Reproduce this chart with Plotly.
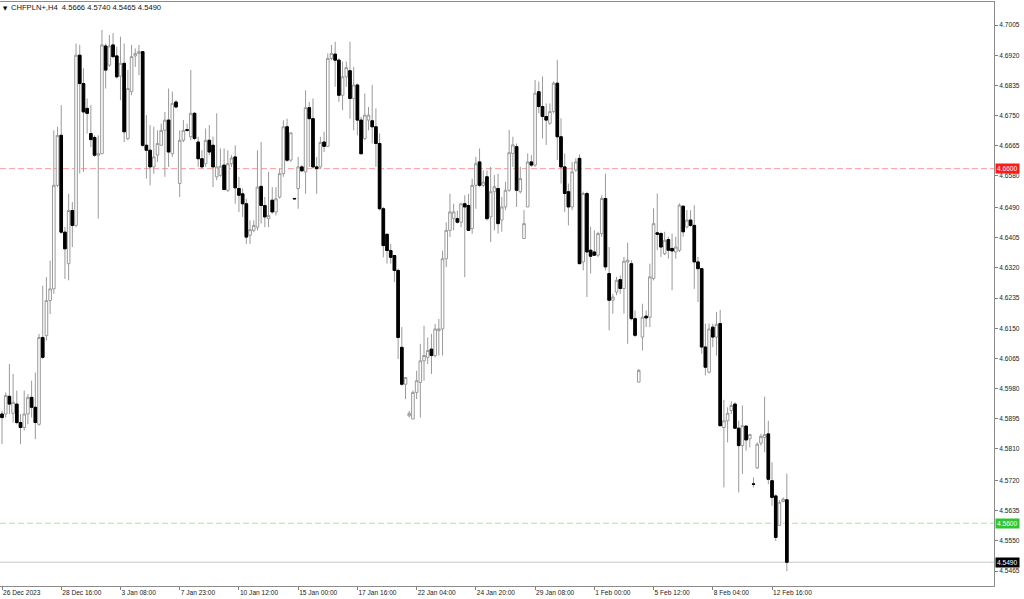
import plotly.graph_objects as go

# ---- data (CHFPLN+, H4) ----
opens = [4.5908, 4.5908, 4.5958, 4.5910, 4.5936, 4.5884, 4.5870, 4.5908, 4.5955, 4.5927,
         4.5879, 4.6124, 4.6129, 4.6228, 4.6261, 4.6553, 4.6694, 4.6421, 4.6332, 4.6482,
         4.6440, 4.6920, 4.6840, 4.6770, 4.6699, 4.6688, 4.6638, 4.6642, 4.6946, 4.6892,
         4.6949, 4.6918, 4.6861, 4.6897, 4.6685, 4.6817, 4.6918, 4.6925, 4.6930, 4.6666,
         4.6652, 4.6605, 4.6638, 4.6666, 4.6708, 4.6737, 4.6642, 4.6788, 4.6558, 4.6680,
         4.6710, 4.6690, 4.6756, 4.6675, 4.6628, 4.6614, 4.6680, 4.6666, 4.6577, 4.6581,
         4.6610, 4.6539, 4.6614, 4.6633, 4.6544, 4.6529, 4.6501, 4.6412, 4.6426, 4.6435,
         4.6550, 4.6496, 4.6459, 4.6511, 4.6478, 4.6520, 4.6586, 4.6718, 4.6624, 4.6516,
         4.6544, 4.6605, 4.6591, 4.6772, 4.6741, 4.6605, 4.6605, 4.6675, 4.6663, 4.6911,
         4.6923, 4.6906, 4.6807, 4.6859, 4.6876, 4.6798, 4.6836, 4.6737, 4.6685, 4.6737,
         4.6735, 4.6718, 4.6671, 4.6487, 4.6415, 4.6369, 4.6355, 4.6313, 4.6096, 4.5992,
         4.5903, 4.5894, 4.5969, 4.5997, 4.6058, 4.6068, 4.6091, 4.6073, 4.6143, 4.6148,
         4.6346, 4.6426, 4.6459, 4.6459, 4.6449, 4.6501, 4.6496, 4.6431, 4.6553, 4.6619,
         4.6553, 4.6577, 4.6464, 4.6535, 4.6544, 4.6455, 4.6492, 4.6539, 4.6643, 4.6662,
         4.6535, 4.6403, 4.6492, 4.6619, 4.6610, 4.6817, 4.6775, 4.6747, 4.6728, 4.6761,
         4.6841, 4.6690, 4.6605, 4.6535, 4.6492, 4.6596, 4.6629, 4.6337, 4.6530, 4.6370,
         4.6365, 4.6356, 4.6417, 4.6516, 4.6304, 4.6229, 4.6252, 4.6287, 4.6262, 4.6337,
         4.6332, 4.6177, 4.5998, 4.6125, 4.6184, 4.6181, 4.6290, 4.6419, 4.6417, 4.6360,
         4.6400, 4.6375, 4.6365, 4.6370, 4.6494, 4.6436, 4.6455, 4.6440, 4.6337, 4.6318,
         4.6097, 4.6026, 4.6153, 4.6125, 4.6163, 4.5870, 4.5889, 4.5918, 4.5936, 4.5868,
         4.5819, 4.5874, 4.5838, 4.5711, 4.5756, 4.5826, 4.5842, 4.5852, 4.5720, 4.5677,
         4.5594, 4.5661, 4.5666]
highs = [4.5917, 4.5969, 4.6049, 4.6021, 4.5974, 4.5908, 4.5974, 4.5964, 4.6002, 4.6025,
         4.6134, 4.6270, 4.6294, 4.6341, 4.6708, 4.6718, 4.6779, 4.6435, 4.6529, 4.6506,
         4.6953, 4.6949, 4.6883, 4.6798, 4.6779, 4.6694, 4.6694, 4.6991, 4.6953, 4.6977,
         4.6982, 4.6944, 4.6972, 4.6953, 4.6878, 4.6949, 4.6939, 4.6949, 4.6930, 4.6751,
         4.6723, 4.6718, 4.6708, 4.6727, 4.6760, 4.6826, 4.6817, 4.6793, 4.6708, 4.6737,
         4.6727, 4.6878, 4.6760, 4.6690, 4.6652, 4.6713, 4.6723, 4.6690, 4.6756, 4.6657,
         4.6657, 4.6652, 4.6638, 4.6666, 4.6577, 4.6544, 4.6515, 4.6454, 4.6454, 4.6652,
         4.6675, 4.6520, 4.6591, 4.6548, 4.6548, 4.6600, 4.6737, 4.6741, 4.6701, 4.6517,
         4.6633, 4.6610, 4.6821, 4.6788, 4.6798, 4.6633, 4.6690, 4.6704, 4.6925, 4.6949,
         4.6958, 4.6911, 4.6902, 4.6902, 4.6958, 4.6887, 4.6840, 4.6746, 4.6812, 4.6774,
         4.6836, 4.6770, 4.6699, 4.6492, 4.6416, 4.6388, 4.6355, 4.6318, 4.6153, 4.6011,
         4.5917, 4.5974, 4.6030, 4.6106, 4.6157, 4.6124, 4.6134, 4.6162, 4.6176, 4.6369,
         4.6449, 4.6529, 4.6501, 4.6482, 4.6501, 4.6525, 4.6529, 4.6572, 4.6633, 4.6657,
         4.6595, 4.6595, 4.6605, 4.6582, 4.6586, 4.6520, 4.6563, 4.6709, 4.6690, 4.6671,
         4.6605, 4.6483, 4.6643, 4.6638, 4.6850, 4.6846, 4.6860, 4.6784, 4.6784, 4.6846,
         4.6907, 4.6742, 4.6643, 4.6558, 4.6619, 4.6629, 4.6640, 4.6535, 4.6535, 4.6436,
         4.6426, 4.6422, 4.6525, 4.6586, 4.6379, 4.6247, 4.6295, 4.6299, 4.6351, 4.6391,
         4.6342, 4.6200, 4.6035, 4.6219, 4.6200, 4.6332, 4.6488, 4.6530, 4.6422, 4.6422,
         4.6408, 4.6417, 4.6408, 4.6502, 4.6497, 4.6483, 4.6483, 4.6497, 4.6351, 4.6318,
         4.6163, 4.6163, 4.6163, 4.6196, 4.6202, 4.5948, 4.5927, 4.5944, 4.5941, 4.5889,
         4.5932, 4.5875, 4.5852, 4.5729, 4.5828, 4.5852, 4.5957, 4.5889, 4.5772, 4.5682,
         4.5665, 4.5673, 4.5740]
lows = [4.5823, 4.5898, 4.5908, 4.5884, 4.5879, 4.5823, 4.5861, 4.5879, 4.5898, 4.5837,
        4.5875, 4.6063, 4.6115, 4.6190, 4.6247, 4.6548, 4.6416, 4.6289, 4.6285, 4.6379,
        4.6435, 4.6586, 4.6591, 4.6699, 4.6661, 4.6633, 4.6459, 4.6642, 4.6826, 4.6887,
        4.6911, 4.6854, 4.6793, 4.6675, 4.6680, 4.6807, 4.6887, 4.6864, 4.6661, 4.6572,
        4.6553, 4.6586, 4.6619, 4.6666, 4.6577, 4.6605, 4.6633, 4.6770, 4.6520, 4.6675,
        4.6704, 4.6680, 4.6680, 4.6605, 4.6600, 4.6605, 4.6638, 4.6548, 4.6567, 4.6577,
        4.6539, 4.6534, 4.6605, 4.6501, 4.6478, 4.6464, 4.6388, 4.6388, 4.6421, 4.6426,
        4.6445, 4.6435, 4.6435, 4.6473, 4.6468, 4.6515, 4.6577, 4.6619, 4.6619, 4.6513,
        4.6487, 4.6591, 4.6529, 4.6605, 4.6600, 4.6529, 4.6600, 4.6647, 4.6661, 4.6906,
        4.6831, 4.6788, 4.6765, 4.6831, 4.6741, 4.6708, 4.6694, 4.6642, 4.6680, 4.6708,
        4.6671, 4.6605, 4.6482, 4.6350, 4.6332, 4.6332, 4.6280, 4.6063, 4.5988, 4.5950,
        4.5898, 4.5894, 4.5950, 4.5898, 4.6002, 4.6049, 4.6021, 4.6068, 4.6073, 4.6073,
        4.6322, 4.6407, 4.6426, 4.6445, 4.6435, 4.6294, 4.6426, 4.6416, 4.6487, 4.6548,
        4.6548, 4.6454, 4.6393, 4.6426, 4.6417, 4.6422, 4.6483, 4.6535, 4.6605, 4.6492,
        4.6530, 4.6403, 4.6492, 4.6605, 4.6605, 4.6756, 4.6685, 4.6667, 4.6723, 4.6756,
        4.6624, 4.6558, 4.6478, 4.6440, 4.6483, 4.6591, 4.6332, 4.6313, 4.6238, 4.6304,
        4.6354, 4.6351, 4.6408, 4.6313, 4.6144, 4.6191, 4.6243, 4.6247, 4.6191, 4.6106,
        4.6172, 4.6125, 4.5998, 4.6087, 4.6153, 4.6153, 4.6285, 4.6370, 4.6351, 4.6356,
        4.6346, 4.6257, 4.6346, 4.6365, 4.6408, 4.6431, 4.6436, 4.6261, 4.6224, 4.6078,
        4.6017, 4.6022, 4.6097, 4.6073, 4.5875, 4.5701, 4.5828, 4.5908, 4.5866, 4.5687,
        4.5739, 4.5805, 4.5814, 4.5701, 4.5753, 4.5819, 4.5800, 4.5710, 4.5649, 4.5550,
        4.5593, 4.5659, 4.5465]
closes = [4.5898, 4.5960, 4.5936, 4.5941, 4.5884, 4.5870, 4.5908, 4.5955, 4.5927, 4.5884,
          4.6124, 4.6068, 4.6228, 4.6261, 4.6553, 4.6694, 4.6421, 4.6374, 4.6482, 4.6440,
          4.6920, 4.6840, 4.6760, 4.6756, 4.6682, 4.6638, 4.6642, 4.6949, 4.6878, 4.6946,
          4.6916, 4.6859, 4.6897, 4.6704, 4.6826, 4.6916, 4.6925, 4.6930, 4.6666, 4.6652,
          4.6605, 4.6633, 4.6671, 4.6708, 4.6737, 4.6647, 4.6784, 4.6774, 4.6680, 4.6708,
          4.6708, 4.6756, 4.6685, 4.6628, 4.6605, 4.6680, 4.6647, 4.6605, 4.6605, 4.6607,
          4.6541, 4.6614, 4.6630, 4.6546, 4.6525, 4.6501, 4.6407, 4.6428, 4.6440, 4.6548,
          4.6496, 4.6464, 4.6468, 4.6478, 4.6515, 4.6586, 4.6718, 4.6624, 4.6701, 4.6515,
          4.6605, 4.6594, 4.6772, 4.6741, 4.6605, 4.6600, 4.6674, 4.6663, 4.6911, 4.6925,
          4.6906, 4.6807, 4.6859, 4.6885, 4.6798, 4.6836, 4.6737, 4.6642, 4.6751, 4.6751,
          4.6718, 4.6671, 4.6487, 4.6383, 4.6369, 4.6350, 4.6313, 4.6124, 4.5992, 4.6011,
          4.5910, 4.5969, 4.6002, 4.6058, 4.6073, 4.6087, 4.6073, 4.6148, 4.6148, 4.6346,
          4.6426, 4.6478, 4.6478, 4.6449, 4.6501, 4.6492, 4.6426, 4.6553, 4.6614, 4.6553,
          4.6562, 4.6459, 4.6535, 4.6549, 4.6445, 4.6492, 4.6539, 4.6645, 4.6667, 4.6539,
          4.6572, 4.6445, 4.6619, 4.6610, 4.6813, 4.6775, 4.6747, 4.6737, 4.6761, 4.6841,
          4.6690, 4.6605, 4.6530, 4.6492, 4.6591, 4.6619, 4.6332, 4.6530, 4.6365, 4.6353,
          4.6356, 4.6417, 4.6516, 4.6323, 4.6229, 4.6238, 4.6285, 4.6262, 4.6339, 4.6342,
          4.6177, 4.6130, 4.6031, 4.6181, 4.6179, 4.6295, 4.6445, 4.6415, 4.6379, 4.6398,
          4.6370, 4.6368, 4.6379, 4.6497, 4.6422, 4.6455, 4.6440, 4.6337, 4.6318, 4.6097,
          4.6040, 4.6148, 4.6125, 4.6161, 4.5875, 4.5889, 4.5910, 4.5932, 4.5868, 4.5819,
          4.5875, 4.5835, 4.5850, 4.5710, 4.5823, 4.5845, 4.5850, 4.5724, 4.5673, 4.5560,
          4.5659, 4.5668, 4.5490]

time_labels = ["26 Dec 2023", "28 Dec 16:00", "3 Jan 08:00", "7 Jan 23:00", "10 Jan 12:00",
               "15 Jan 00:00", "17 Jan 16:00", "22 Jan 04:00", "24 Jan 20:00", "29 Jan 08:00",
               "1 Feb 00:00", "5 Feb 12:00", "8 Feb 04:00", "12 Feb 16:00"]
bars_per_label = 16
price_ticks = [4.7005, 4.6920, 4.6835, 4.6750, 4.6665, 4.6580, 4.6490, 4.6405, 4.6320,
               4.6235, 4.6150, 4.6065, 4.5980, 4.5895, 4.5810, 4.5720, 4.5635, 4.5550, 4.5465]
symbol_title = "CHFPLN+,H4"
level_red = 4.6600
level_green = 4.5600
bid = closes[-1]

idx = list(range(len(opens)))
bear = [i for i in idx if closes[i] < opens[i]]

GRAY = "#9a9a9a"
fig = go.Figure()
fig.add_trace(go.Candlestick(
    x=idx, open=opens, high=highs, low=lows, close=closes,
    increasing=dict(line=dict(color=GRAY, width=1), fillcolor="white"),
    decreasing=dict(line=dict(color=GRAY, width=1), fillcolor="black"),
    whiskerwidth=0, showlegend=False, hoverinfo="skip"))
fig.add_trace(go.Candlestick(
    x=bear, open=[opens[i] for i in bear], close=[closes[i] for i in bear],
    high=[opens[i] for i in bear], low=[closes[i] for i in bear],
    increasing=dict(line=dict(color="rgba(0,0,0,0)", width=1), fillcolor="rgba(0,0,0,0)"),
    decreasing=dict(line=dict(color="black", width=1), fillcolor="black"),
    whiskerwidth=0, showlegend=False, hoverinfo="skip"))

# horizontal levels
fig.add_hline(y=level_red, line=dict(color="#ff9a9a", width=1, dash="6px,3px"), layer="below")
fig.add_hline(y=level_green, line=dict(color="#9ee89e", width=1, dash="6px,3px"), layer="below")
fig.add_hline(y=bid, line=dict(color="#c8c8c8", width=1), layer="below")

FONT = "Liberation Sans, Arial, sans-serif"
for val, bg in [(level_red, "#ff1a1a"), (level_green, "#2ec62e"), (bid, "#000000")]:
    fig.add_annotation(xref="paper", x=1, xanchor="left", xshift=1, yref="y", y=val,
                       text=f"{val:.4f}", showarrow=False, bgcolor=bg, borderpad=1,
                       font=dict(family=FONT, size=6.6, color="white"))

fig.add_annotation(xref="paper", yref="paper", x=0, y=1, xanchor="left", yanchor="top",
                   xshift=1, yshift=-1, text="▼", showarrow=False,
                   font=dict(family="DejaVu Sans", size=5.5, color="black"))
fig.add_annotation(xref="paper", yref="paper", x=0, y=1, xanchor="left", yanchor="top",
                   xshift=9, yshift=1,
                   text=f"{symbol_title}  {opens[-1]:.4f} {highs[-1]:.4f} {lows[-1]:.4f} {closes[-1]:.4f}",
                   showarrow=False, font=dict(family=FONT, size=7.6, color="#111"))

fig.update_layout(
    width=1024, height=599,
    margin=dict(l=0, r=30, t=2, b=13, autoexpand=False),
    paper_bgcolor="white", plot_bgcolor="white",
    boxgap=0.3, boxgroupgap=0,
    xaxis=dict(range=[-0.54, 267.96], rangeslider=dict(visible=False), automargin=False,
               tickvals=[k * bars_per_label for k in range(len(time_labels))],
               ticktext=time_labels, ticks="outside", ticklen=3, tickcolor="#808080",
               ticklabelposition="outside right", showgrid=False, zeroline=False,
               showline=True, linecolor="#8c8c8c", linewidth=1, mirror=True,
               tickfont=dict(family=FONT, size=6.6, color="#222")),
    yaxis=dict(range=[4.5423, 4.7070], side="right", tickvals=price_ticks, automargin=False,
               tickformat=".4f", ticks="outside", ticklen=3, tickcolor="#808080",
               showgrid=False, zeroline=False, showline=True, linecolor="#8c8c8c",
               linewidth=1, mirror=True,
               tickfont=dict(family=FONT, size=6.6, color="#222")),
)

fig.write_html(
    "out.html",
    config={"displayModeBar": False},
    post_script="document.body.style.margin='0';document.body.style.overflow='hidden';",
)
